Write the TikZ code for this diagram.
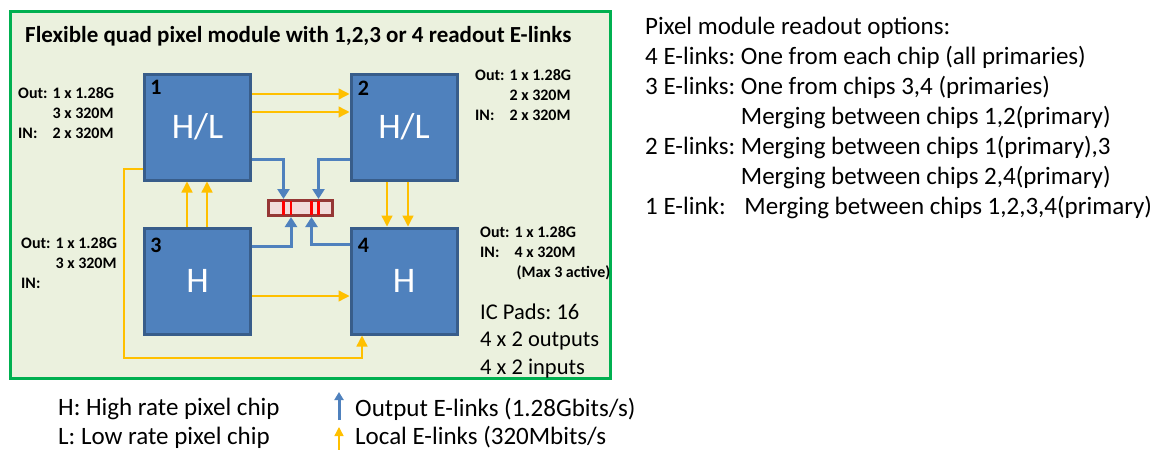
\documentclass[tikz,border=0pt]{standalone}
\usepackage{fontspec}
\setmainfont{Carlito}
\usepackage{tikz}
\usetikzlibrary{arrows.meta,positioning,calc}
\definecolor{QGreen}{HTML}{00B050}
\definecolor{QPanel}{HTML}{EBF1DE}
\definecolor{QBlue}{HTML}{4F81BD}
\definecolor{QBlueDark}{HTML}{385D8A}
\definecolor{QYellow}{HTML}{FFC000}
\definecolor{QRedDark}{HTML}{953735}
\definecolor{QPink}{HTML}{F2DCDB}
\definecolor{QRed}{HTML}{FF0000}
\frenchspacing

\begin{document}
\begin{tikzpicture}[
  x=1pt,y=-1pt,
  chip/.style={draw=QBlueDark,fill=QBlue,line width=3pt,minimum width=106pt,
    minimum height=106pt,inner sep=0pt,text=white,font=\fontsize{36}{40}\selectfont},
  num/.style={inner sep=0pt,font=\bfseries\fontsize{22}{24}\selectfont},
  spec/.style={anchor=north west,inner sep=0pt,font=\bfseries\fontsize{16}{20}\selectfont},
  big/.style={anchor=north west,inner sep=0pt,font=\fontsize{25}{30}\selectfont},
  conn/.style={draw=QRedDark,fill=QPink,line width=3pt,minimum width=64pt,
    minimum height=15pt,inner sep=0pt},
  pin/.style={draw=QRed,line width=2.6pt},
  outp/.style={-{Triangle[length=10pt,width=12pt]},line width=3pt,draw=QBlue},
  loc/.style={-{Triangle[length=11pt,width=11pt]},line width=1.4pt,draw=QYellow}
]
  \useasboundingbox[fill=white] (0,0) rectangle (1152,450);

  % module frame
  \draw[draw=QGreen,fill=QPanel,line width=3pt] (10,11.5) rectangle (610.5,378.5);
  \node[anchor=west,inner sep=0pt,font=\bfseries\fontsize{23}{26}\selectfont] (title) at (25,36)
    {Flexible quad pixel module with 1,2,3 or 4 readout E-links};

  % chips
  \node[chip] (c1) at (197.5,127) {H/L};
  \node[chip] (c2) at (404,127) {H/L};
  \node[chip] (c3) at (197.5,281) {H};
  \node[chip] (c4) at (404,281) {H};
  \node[num] (n1) at ($(c1.north west)+(13,14.5)$) {1};
  \node[num] (n2) at ($(c2.north west)+(14,15.5)$) {2};
  \node[num] (n3) at ($(c3.north west)+(13,19)$) {3};
  \node[num] (n4) at ($(c4.north west)+(14,19)$) {4};

  % connector with pads
  \node[conn] (conn) at (300.5,208) {};
  \coordinate (pA) at (283.5,208);
  \coordinate (pB) at (291,208);
  \coordinate (pC) at (311.5,208);
  \coordinate (pD) at (318.5,208);
  \foreach \p in {pA,pB,pC,pD}
    \draw[pin] ([yshift=7pt]\p) -- ([yshift=-7pt]\p);

  % output E-links
  \draw[outp] ([yshift=-32pt]c1.east) -| (conn.north -| pA);
  \draw[outp] ([yshift=-32pt]c2.west) -| (conn.north -| pD);
  \draw[outp] ([yshift=35pt]c3.east) -| (conn.south -| pB);
  \draw[outp] ([yshift=37pt]c4.west) -| (conn.south -| pC);

  % local E-links
  \draw[loc] ([yshift=33pt]c1.east) -- ([yshift=33pt]c2.west);
  \draw[loc] ([yshift=15pt]c1.east) -- ([yshift=15pt]c2.west);
  \draw[loc] ([xshift=-10.5pt]c3.north) -- ([xshift=-10.5pt]c1.south);
  \draw[loc] ([xshift=9.5pt]c3.north) -- ([xshift=9.5pt]c1.south);
  \draw[loc] ([xshift=-17pt]c2.south) -- ([xshift=-17pt]c4.north);
  \draw[loc] ([xshift=4pt]c2.south) -- ([xshift=4pt]c4.north);
  \draw[loc] ([yshift=-15pt]c3.east) -- ([yshift=-15pt]c4.west);
  \draw[loc] ([yshift=-42pt]c1.west) -- ++(-19,0) |- ($(c4.south)+(-42,22.5)$)
    -- ([xshift=-42pt]c4.south);

  % link budgets
  \node[spec] (s1) at (18,84) {\begin{tabular}{@{}l@{\hspace{5pt}}l@{}}
    Out: & 1 x 1.28G\\ & 3 x 320M\\ IN: & 2 x 320M\end{tabular}};
  \node[spec] (s2) at (475,66) {\begin{tabular}{@{}l@{\hspace{5pt}}l@{}}
    Out: & 1 x 1.28G\\ & 2 x 320M\\ IN: & 2 x 320M\end{tabular}};
  \node[spec] (s3) at (21,234) {\begin{tabular}{@{}l@{\hspace{5pt}}l@{}}
    Out: & 1 x 1.28G\\ & 3 x 320M\\ IN: & \end{tabular}};
  \node[spec] (s4) at (480,223) {\begin{tabular}{@{}l@{\hspace{5pt}}l@{}}
    Out: & 1 x 1.28G\\ IN: & 4 x 320M\\ & \hspace{2pt}(Max 3 active)\end{tabular}};
  \node[big,font=\fontsize{22.5}{27.5}\selectfont] (pads) at (480,300) {\begin{tabular}{@{}l@{}}
    IC Pads: 16\\ 4 x 2 outputs\\ 4 x 2 inputs\end{tabular}};

  % readout options
  \node[big] (opts) at (645,13) {\begin{tabular}{@{}l@{\ }l@{}}
    \multicolumn{2}{@{}l@{}}{Pixel module readout options:}\\
    4 E-links: & One from each chip (all primaries)\\
    3 E-links: & One from chips 3,4 (primaries)\\
     & Merging between chips 1,2(primary)\\
    2 E-links: & Merging between chips 1(primary),3\\
     & Merging between chips 2,4(primary)\\
    \multicolumn{2}{@{}l@{}}{1 E-link:\hspace{0.75em}Merging between chips 1,2,3,4(primary)}
    \end{tabular}};

  % legend
  \node[big,font=\fontsize{25}{29}\selectfont] (lgchip) at (58,394.5) {\begin{tabular}{@{}l@{}}
    H: High rate pixel chip\\ L: Low rate pixel chip\end{tabular}};
  \node[big,font=\fontsize{25}{28}\selectfont] (lglink) at (355,397) {\begin{tabular}{@{}l@{}}
    Output E-links (1.28Gbits/s)\\ Local E-links (320Mbits/s\end{tabular}};
  \draw[outp,-{Triangle[length=8pt,width=9pt]}] ($(lglink.north west)+(-16,23)$) -- ++(0,-28);
  \draw[loc,-{Triangle[length=9pt,width=9pt]}] ($(lglink.north west)+(-16,54)$) -- ++(0,-24);
\end{tikzpicture}
\end{document}
